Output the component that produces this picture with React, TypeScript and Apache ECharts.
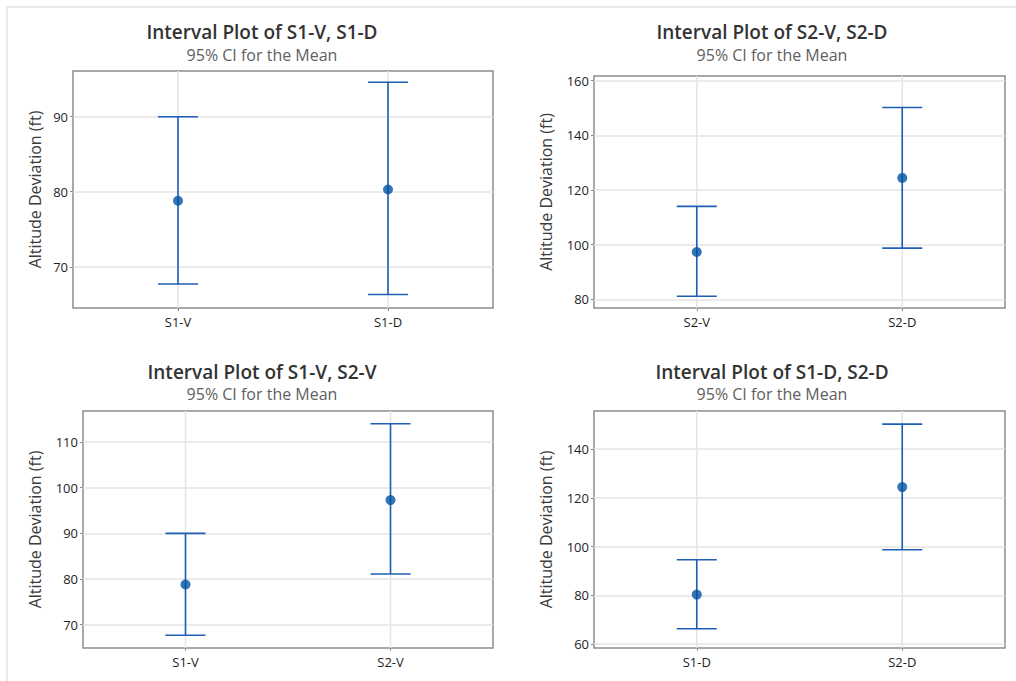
import React, { useEffect, useRef } from 'react';
import * as echarts from 'echarts';

// ---- data ----
const groups = ['S1-V', 'S1-D', 'S2-V', 'S2-D'];
const means = [78.8, 80.3, 97.3, 124.4];
const lowerCI = [67.7, 66.3, 81.1, 98.7];
const upperCI = [90.0, 94.6, 114.0, 150.2];
const panelPairs = [[0, 1], [2, 3], [0, 2], [1, 3]];
const yTickValues = [
  [70, 80, 90],
  [80, 100, 120, 140, 160],
  [70, 80, 90, 100, 110],
  [60, 80, 100, 120, 140],
];
const yAxisMin = [64.5, 76.8, 64.9, 58.4];
const yAxisMax = [96.1, 161.7, 116.8, 155.6];
const ySplitNumber = [3, 4, 5, 5];
const yAxisTitle = 'Altitude Deviation (ft)';
const subTitleText = '95% CI for the Mean';

// ---- layout ----
const gridRects = [
  { left: 73, top: 71, width: 420, height: 237 },
  { left: 594, top: 76, width: 411, height: 232 },
  { left: 83, top: 411, width: 410, height: 237 },
  { left: 594, top: 411, width: 411, height: 237 },
];
const titleCenters = [
  { x: 262, y: 32, sy: 55 },
  { x: 772, y: 32, sy: 55 },
  { x: 262, y: 372, sy: 394 },
  { x: 772, y: 372, sy: 394 },
];
const nameGaps = [30, 40, 40, 40];

const FONT = "'Open Sans', 'Noto Sans', sans-serif";
const LINE_BLUE = '#1d5fb4';
const DOT_BLUE = '#0052a3';
const GRID_GRAY = '#e4e4e4';
const FRAME_GRAY = '#8c8c8c';

export default function App() {
  const ref = useRef<HTMLDivElement>(null);
  useEffect(() => {
    if (!ref.current) return;
    const chart = echarts.init(ref.current, null, { renderer: 'svg' });

    const grid: any[] = [];
    const xAxis: any[] = [];
    const yAxis: any[] = [];
    const series: any[] = [];
    const graphic: any[] = [
      {
        type: 'rect',
        shape: { x: 7, y: 7, width: 1040, height: 700 },
        style: { fill: 'none', stroke: '#e2e2e2', lineWidth: 1.5 },
        silent: true,
      },
    ];

    panelPairs.forEach((pair, i) => {
      const r = gridRects[i];
      grid.push({
        left: r.left,
        top: r.top,
        width: r.width,
        height: r.height,
        show: true,
        borderColor: FRAME_GRAY,
        borderWidth: 1.5,
        backgroundColor: 'transparent',
        containLabel: false,
        outerBoundsMode: 'none',
      });
      xAxis.push({
        type: 'category',
        gridIndex: i,
        data: pair.map((g) => groups[g]),
        boundaryGap: true,
        axisLine: { show: false },
        axisTick: { show: true, alignWithLabel: true, length: 3, lineStyle: { color: FRAME_GRAY, width: 1 } },
        axisLabel: { color: '#1e1e1e', fontSize: 13, fontFamily: FONT, margin: 7 },
        splitLine: { show: false },
      });
      yAxis.push({
        type: 'value',
        gridIndex: i,
        min: yAxisMin[i],
        max: yAxisMax[i],
        splitNumber: ySplitNumber[i],
        name: yAxisTitle,
        nameLocation: 'middle',
        nameRotate: 90,
        nameGap: nameGaps[i],
        nameTextStyle: { color: '#3a3a3a', fontSize: 16, fontFamily: FONT },
        axisLine: { show: false },
        axisTick: {
          show: true,
          length: 3,
          customValues: yTickValues[i],
          lineStyle: { color: FRAME_GRAY, width: 1 },
        },
        axisLabel: {
          color: '#1e1e1e',
          fontSize: 13,
          fontFamily: FONT,
          margin: 5,
          customValues: yTickValues[i],
        },
        splitLine: { show: true, lineStyle: { color: GRID_GRAY, width: 1.5 } },
      });

      // vertical grid lines at category centres
      series.push({
        type: 'custom',
        xAxisIndex: i,
        yAxisIndex: i,
        silent: true,
        z: 1,
        data: pair.map((_, k) => [k]),
        encode: { x: 0 },
        renderItem: (params: any, api: any) => {
          const cs = params.coordSys;
          const x = api.coord([api.value(0), yAxisMin[i]])[0];
          return {
            type: 'line',
            shape: { x1: x, y1: cs.y, x2: x, y2: cs.y + cs.height },
            style: { stroke: GRID_GRAY, lineWidth: 1.5 },
          };
        },
      });

      // confidence intervals
      series.push({
        type: 'custom',
        xAxisIndex: i,
        yAxisIndex: i,
        z: 2,
        data: pair.map((g, k) => [k, lowerCI[g], upperCI[g]]),
        encode: { x: 0, y: [1, 2] },
        renderItem: (_params: any, api: any) => {
          const k = api.value(0);
          const lo = api.coord([k, api.value(1)]);
          const hi = api.coord([k, api.value(2)]);
          const half = 20;
          const style = { stroke: LINE_BLUE, lineWidth: 1.6 };
          return {
            type: 'group',
            children: [
              { type: 'line', shape: { x1: lo[0], y1: lo[1], x2: hi[0], y2: hi[1] }, style },
              { type: 'line', shape: { x1: lo[0] - half, y1: lo[1], x2: lo[0] + half, y2: lo[1] }, style },
              { type: 'line', shape: { x1: hi[0] - half, y1: hi[1], x2: hi[0] + half, y2: hi[1] }, style },
            ],
          };
        },
      });

      // means
      series.push({
        type: 'scatter',
        xAxisIndex: i,
        yAxisIndex: i,
        z: 3,
        symbol: 'circle',
        symbolSize: 10,
        itemStyle: { color: DOT_BLUE },
        data: pair.map((g, k) => [k, means[g]]),
      });

      const t = titleCenters[i];
      graphic.push({
        type: 'text',
        x: t.x,
        y: t.y,
        silent: true,
        style: {
          text: `Interval Plot of ${groups[pair[0]]}, ${groups[pair[1]]}`,
          fill: '#333333',
          font: `600 19px ${FONT}`,
          textAlign: 'center',
          textVerticalAlign: 'middle',
        },
      });
      graphic.push({
        type: 'text',
        x: t.x,
        y: t.sy,
        silent: true,
        style: {
          text: subTitleText,
          fill: '#606060',
          font: `16px ${FONT}`,
          textAlign: 'center',
          textVerticalAlign: 'middle',
        },
      });
    });

    chart.setOption({
      animation: false,
      backgroundColor: '#ffffff',
      grid,
      xAxis,
      yAxis,
      series,
      graphic,
    });
    return () => chart.dispose();
  }, []);

  return (
    <div
      ref={ref}
      style={{ position: 'fixed', left: 0, top: 0, width: 1016, height: 681 }}
    />
  );
}
